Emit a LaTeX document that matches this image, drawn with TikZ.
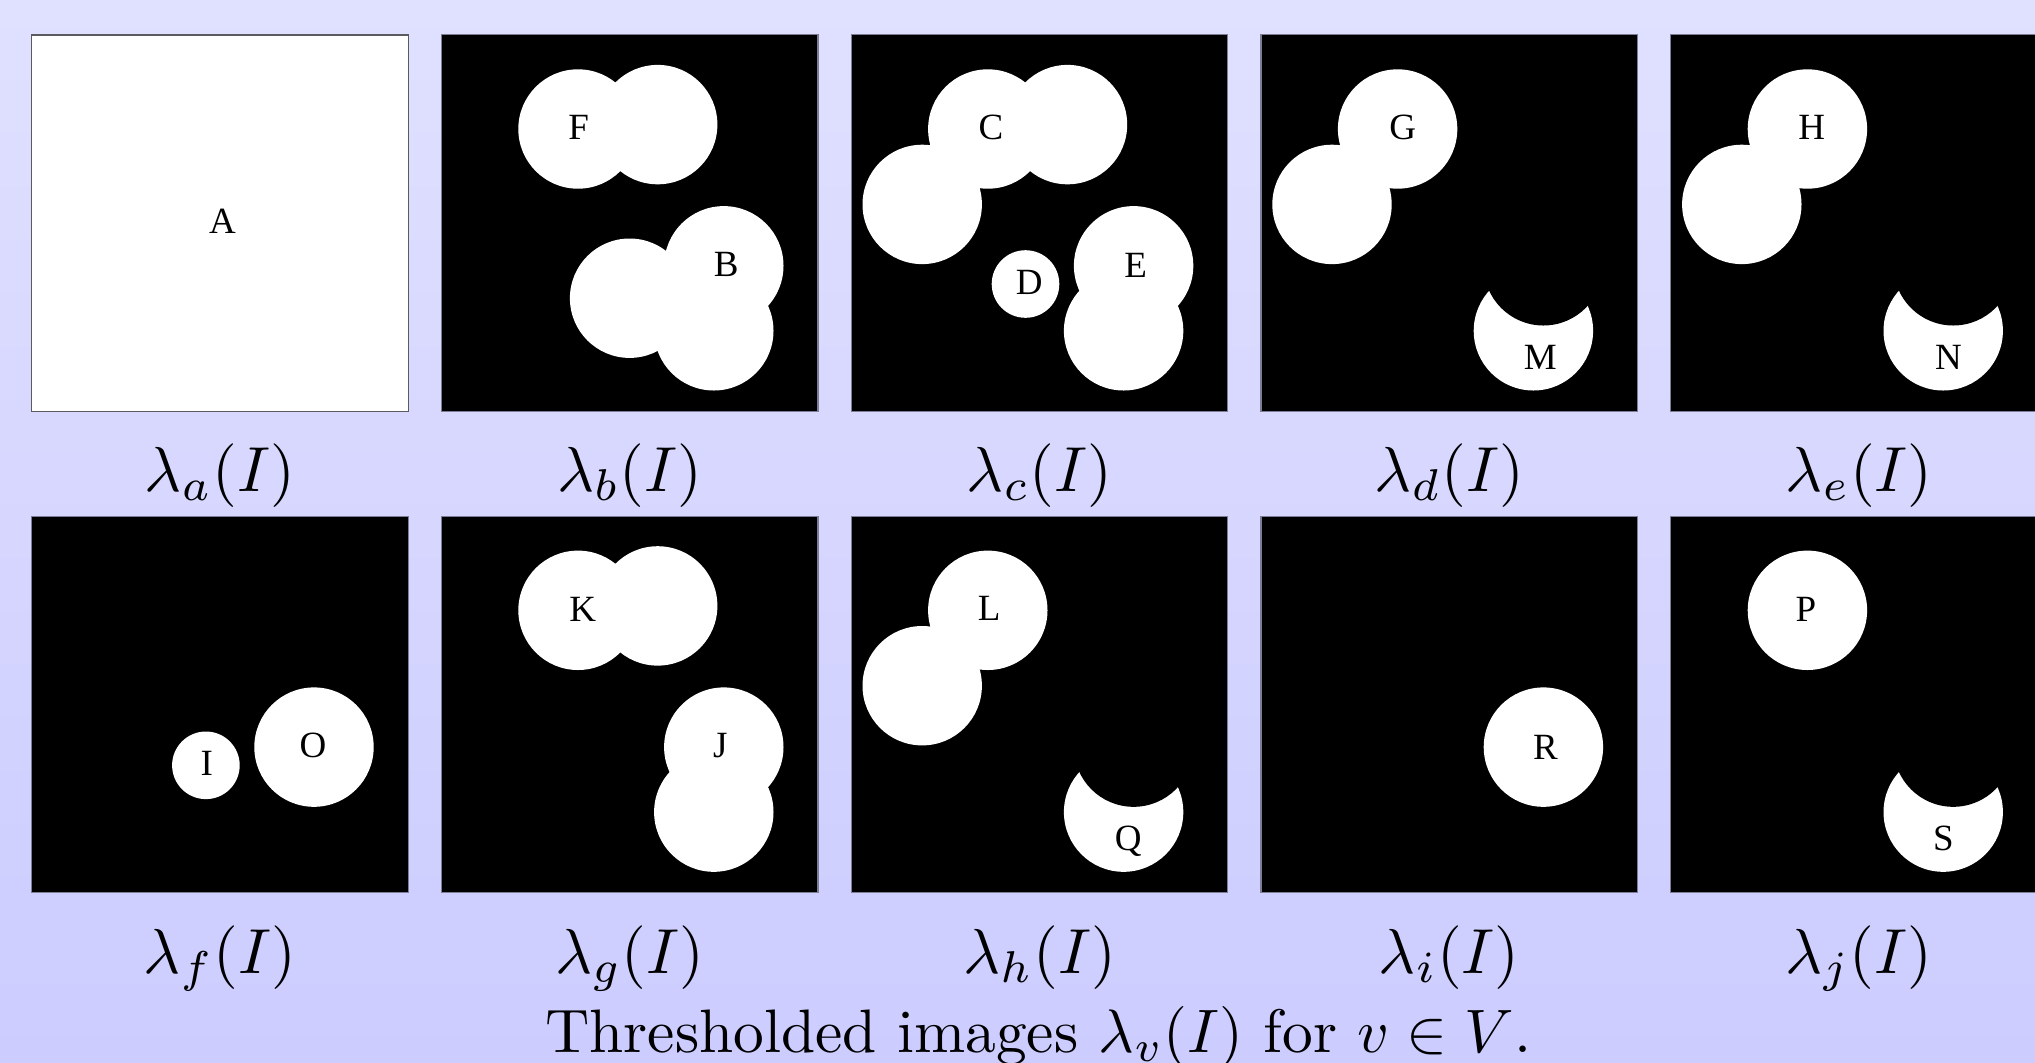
\documentclass[tikz,border=0pt]{standalone}
\usepackage{fontspec}
\newfontfamily\lettfont{Liberation Serif}
\definecolor{bgtop}{RGB}{224,224,255}
\definecolor{bgbot}{RGB}{204,204,255}
\definecolor{pborder}{RGB}{125,125,150}
\definecolor{aborder}{RGB}{90,90,95}
\begin{document}
\begin{tikzpicture}[x=0.5pt,y=-0.5pt,
  panel/.style={fill=black,draw=pborder,line width=0.6pt},
  whitepanel/.style={fill=white,draw=aborder,line width=0.7pt},
  blob/.style={fill=white},
  hole/.style={fill=black},
  lett/.style={font=\lettfont\fontsize{18.5}{20}\selectfont,inner sep=0pt,anchor=base},
  lab/.style={scale=3.18,inner sep=0pt,anchor=base},
  captext/.style={scale=3.07,inner sep=0pt,anchor=base}]
\def\R{29.85pt}
\def\r{16.9pt}
% background
\shade[top color=bgtop,bottom color=bgbot] (0,0) rectangle (2035,1062);
\useasboundingbox (0,0) rectangle (2035,1062);
% ---------- row 1 ----------
% a
\begin{scope}[shift={(31.6,34.8)}]
  \filldraw[whitepanel] (0,0) rectangle (376.6,376.6);
  \node[lett] (nA) at (191,199) {A};
\end{scope}
% b
\begin{scope}[shift={(441.4,34.8)}]
  \filldraw[panel] (0,0) rectangle (376.6,376.6);
  \fill[blob] (136.6,94.2) circle[radius=\R] (216.3,89.8) circle[radius=\R]
              (188.2,263.4) circle[radius=\R] (282.4,231) circle[radius=\R]
              (272.4,296) circle[radius=\R];
  \node[lett] (nF) at (137.2,104.4) {F};
  \node[lett] (nB) at (284.8,241.9) {B};
\end{scope}
% c
\begin{scope}[shift={(851.2,34.8)}]
  \filldraw[panel] (0,0) rectangle (376.6,376.6);
  \fill[blob] (136.6,94.2) circle[radius=\R] (216.3,89.8) circle[radius=\R]
              (71,169.6) circle[radius=\R] (174.3,249.2) circle[radius=\r]
              (282.4,231) circle[radius=\R] (272.4,296) circle[radius=\R];
  \node[lett] (nC) at (139.8,104.2) {C};
  \node[lett] (nD) at (178,259.2) {D};
  \node[lett] (nE) at (284.4,242.6) {E};
\end{scope}
% d
\begin{scope}[shift={(1261,34.8)}]
  \filldraw[panel] (0,0) rectangle (376.6,376.6);
  \fill[blob] (136.6,94.2) circle[radius=\R] (71,169.6) circle[radius=\R]
              (272.4,296) circle[radius=\R];
  \fill[hole] (282.4,231) circle[radius=\R];
  \node[lett] (nG) at (141.7,105.1) {G};
  \node[lett] (nM) at (279.4,334.7) {M};
\end{scope}
% e
\begin{scope}[shift={(1670.8,34.8)}]
  \filldraw[panel] (0,0) rectangle (376.6,376.6);
  \fill[blob] (136.6,94.2) circle[radius=\R] (71,169.6) circle[radius=\R]
              (272.4,296) circle[radius=\R];
  \fill[hole] (282.4,231) circle[radius=\R];
  \node[lett] (nH) at (141,105.1) {H};
  \node[lett] (nN) at (277.7,334.7) {N};
\end{scope}
% ---------- row 2 ----------
% f
\begin{scope}[shift={(31.6,516.1)}]
  \filldraw[panel] (0,0) rectangle (376.6,376.6);
  \fill[blob] (174.3,249.2) circle[radius=\r] (282.4,231) circle[radius=\R];
  \node[lett] (nI) at (175.1,259.5) {I};
  \node[lett] (nO) at (281.3,241.6) {O};
\end{scope}
% g
\begin{scope}[shift={(441.4,516.1)}]
  \filldraw[panel] (0,0) rectangle (376.6,376.6);
  \fill[blob] (136.6,94.2) circle[radius=\R] (216.3,89.8) circle[radius=\R]
              (282.4,231) circle[radius=\R] (272.4,296) circle[radius=\R];
  \node[lett] (nK) at (141.3,105.4) {K};
  \node[lett] (nJ) at (279,241.6) {J};
\end{scope}
% h
\begin{scope}[shift={(851.2,516.1)}]
  \filldraw[panel] (0,0) rectangle (376.6,376.6);
  \fill[blob] (136.6,94.2) circle[radius=\R] (71,169.6) circle[radius=\R]
              (272.4,296) circle[radius=\R];
  \fill[hole] (282.4,231) circle[radius=\R];
  \node[lett] (nL) at (138,104.4) {L};
  \node[lett] (nQ) at (277,334.2) {Q};
\end{scope}
% i
\begin{scope}[shift={(1261,516.1)}]
  \filldraw[panel] (0,0) rectangle (376.6,376.6);
  \fill[blob] (282.4,231) circle[radius=\R];
  \node[lett] (nR) at (284.4,243.4) {R};
\end{scope}
% j
\begin{scope}[shift={(1670.8,516.1)}]
  \filldraw[panel] (0,0) rectangle (376.6,376.6);
  \fill[blob] (136.6,94.2) circle[radius=\R] (272.4,296) circle[radius=\R];
  \fill[hole] (282.4,231) circle[radius=\R];
  \node[lett] (nP) at (135,105.4) {P};
  \node[lett] (nS) at (272.7,334.8) {S};
\end{scope}
% ---------- labels ----------
\node[lab] (la) at (219.9,491) {$\lambda_a(I)$};
\node[lab] (lb) at (629.7,491) {$\lambda_b(I)$};
\node[lab] (lc) at (1039.5,491) {$\lambda_c(I)$};
\node[lab] (ld) at (1449.3,491) {$\lambda_d(I)$};
\node[lab] (le) at (1859.1,491) {$\lambda_e(I)$};
\node[lab] (lf) at (219.9,973.3) {$\lambda_f(I)$};
\node[lab] (lg) at (629.7,973.3) {$\lambda_g(I)$};
\node[lab] (lh) at (1039.5,973.3) {$\lambda_h(I)$};
\node[lab] (li) at (1449.3,973.3) {$\lambda_i(I)$};
\node[lab] (lj) at (1859.1,973.3) {$\lambda_j(I)$};
\node[captext] (cap) at (1038.4,1052) {Thresholded images $\lambda_v(I)$ for $v\in V$.};
\end{tikzpicture}
\end{document}
